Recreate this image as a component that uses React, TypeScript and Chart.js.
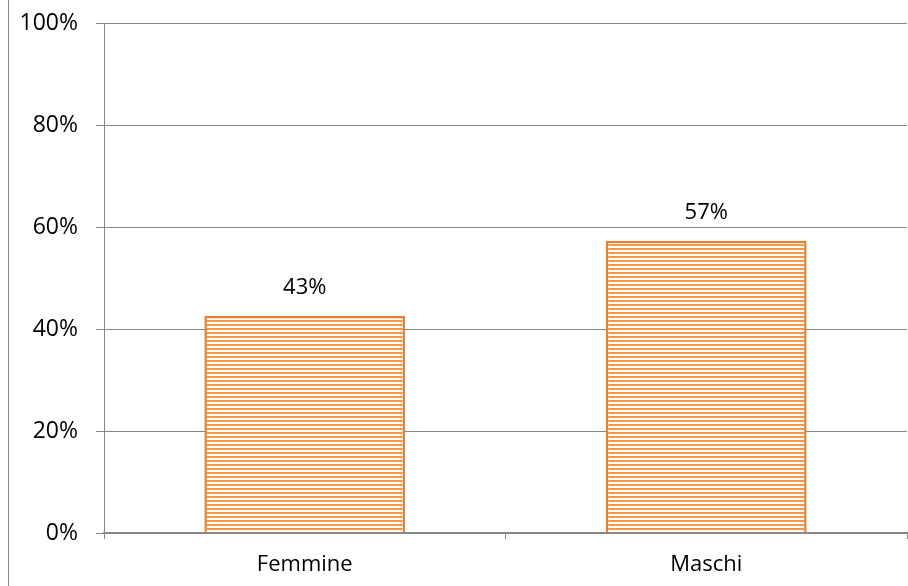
import React, { useEffect, useRef } from "react";
import { Chart, registerables } from "chart.js";

Chart.register(...registerables);

const categories = ["Femmine", "Maschi"];
const values = [42.6, 57.4];
const yTicks = [0, 20, 40, 60, 80, 100];

const FONT = "'Open Sans', 'Noto Sans', sans-serif";
const AXIS = "#868686";

function makePattern(): CanvasPattern | string {
  const c = document.createElement("canvas");
  c.width = 8;
  c.height = 4;
  const ctx = c.getContext("2d");
  if (!ctx) return "#F79646";
  ctx.fillStyle = "#FFFFFF";
  ctx.fillRect(0, 0, 8, 4);
  ctx.fillStyle = "#F59845";
  ctx.fillRect(0, 0, 8, 2);
  return ctx.createPattern(c, "repeat") || "#F79646";
}

export default function App() {
  const ref = useRef<HTMLCanvasElement>(null);
  useEffect(() => {
    if (!ref.current) return;
    const pattern = makePattern();
    const borderPlugin = {
      id: "leftBorder",
      afterDraw(chart: any) {
        const ctx = chart.ctx;
        ctx.save();
        ctx.strokeStyle = AXIS;
        ctx.lineWidth = 1;
        ctx.beginPath();
        ctx.moveTo(8.5, 0);
        ctx.lineTo(8.5, chart.height);
        ctx.stroke();
        ctx.restore();
      },
    };
    const labelPlugin = {
      id: "valueLabels",
      afterDatasetsDraw(chart: any) {
        const ctx = chart.ctx;
        const meta = chart.getDatasetMeta(0);
        ctx.save();
        ctx.fillStyle = "#000";
        ctx.font = `22px ${FONT}`;
        ctx.textAlign = "center";
        ctx.textBaseline = "middle";
        meta.data.forEach((bar: any, i: number) => {
          ctx.fillText(Math.round(values[i]) + "%", bar.x, bar.y - 28);
        });
        ctx.restore();
      },
    };
    const chart = new Chart(ref.current, {
      type: "bar",
      data: {
        labels: categories,
        datasets: [
          {
            data: values,
            backgroundColor: pattern as any,
            borderColor: "#ED7D31",
            borderWidth: 2.5,
            categoryPercentage: 1,
            barPercentage: 0.5,
          },
        ],
      },
      options: {
        responsive: false,
        animation: false,
        layout: { padding: { top: 22, right: 1, left: 0, bottom: 0 } },
        plugins: { legend: { display: false }, tooltip: { enabled: false } },
        scales: {
          x: {
            grid: {
              offset: true,
              drawOnChartArea: false,
              drawTicks: true,
              tickLength: 6,
              color: AXIS,
            },
            border: { color: AXIS, width: 2 },
            ticks: { color: "#000", font: { family: FONT, size: 22 }, padding: 13 },
            afterFit(scale: any) {
              scale.height = 53;
            },
          },
          y: {
            min: 0,
            max: 100,
            afterBuildTicks(scale: any) {
              scale.ticks = yTicks.map((v) => ({ value: v }));
            },
            grid: { color: AXIS, tickLength: 8, lineWidth: 1 },
            border: { color: AXIS, width: 1 },
            ticks: {
              color: "#000",
              font: { family: FONT, size: 23, lineHeight: 0.5 },
              padding: 18,
              callback: (v: any) => v + "%",
            },
            afterFit(scale: any) {
              scale.width = 104;
            },
          },
        },
      },
      plugins: [borderPlugin, labelPlugin],
    });
    return () => chart.destroy();
  }, []);
  return (
    <div style={{ position: "absolute", left: 0, top: 0, width: 908, height: 586, background: "#fff" }}>
      <canvas ref={ref} width={908} height={586} />
    </div>
  );
}
